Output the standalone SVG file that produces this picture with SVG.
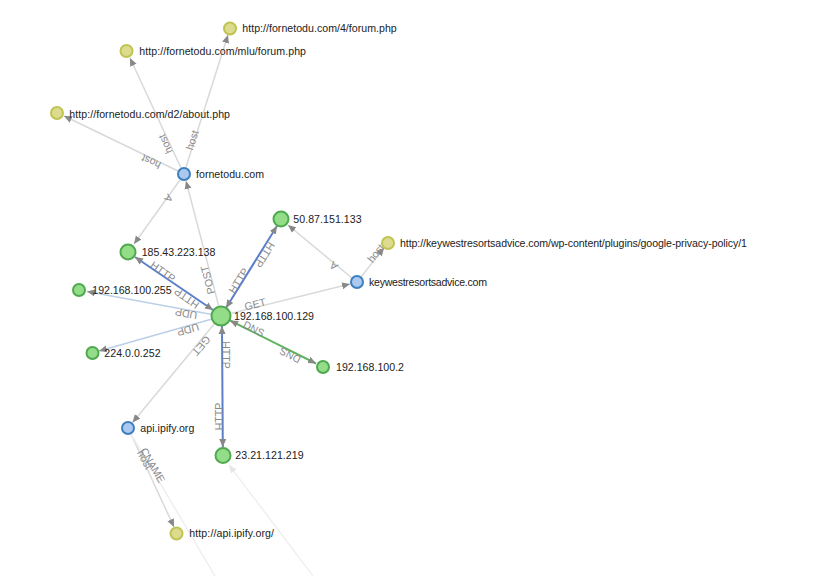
<svg xmlns="http://www.w3.org/2000/svg" width="823" height="576" viewBox="0 0 823 576">
<style>
.n text{font:10.6px "Liberation Sans",Arial,sans-serif;fill:#222}
.ip circle{fill:#93dd88;stroke:#4fa94f;stroke-width:2}
.dom circle{fill:#aac8f0;stroke:#3d80bd;stroke-width:2}
.url circle{fill:#dcdb8e;stroke:#bfc452;stroke-width:2}
#edges line{fill:none;stroke-width:1.5;stroke:#d9d9d9}
#edges line.a{marker-end:url(#arr)}
#edges line.s{marker-start:url(#arrs)}
#edges line.h{stroke:#5c7fca;stroke-width:2}
#edges line.d{stroke:#5cb45c;stroke-width:2}
#edges line.u{stroke:#bccfe8}
#edges line.f{stroke:#f0f0f0}
#edges text{font:10.6px "Liberation Sans",Arial,sans-serif;fill:#8a8a8a;text-anchor:middle;dominant-baseline:central}
</style>
<defs>
<marker id="arr" markerUnits="userSpaceOnUse" markerWidth="9" markerHeight="8" refX="8" refY="4" orient="auto"><path d="M0 0.500L8 4L0 7.500Z" fill="#888"/></marker>
<marker id="arrs" markerUnits="userSpaceOnUse" markerWidth="9" markerHeight="8" refX="0" refY="4" orient="auto"><path d="M8 0.500L0 4L8 7.500Z" fill="#888"/></marker>
<marker id="arrf" markerUnits="userSpaceOnUse" markerWidth="9" markerHeight="8" refX="8" refY="4" orient="auto"><path d="M0 0.500L8 4L0 7.500Z" fill="#e6e6e6"/></marker>
</defs>
<g id="edges">
<line class="a" x1="186" y1="167" x2="228" y2="35"/>
<line class="a" x1="181" y1="168" x2="130" y2="58"/>
<line class="a" x1="178" y1="171" x2="64" y2="116"/>
<line class="a" x1="180" y1="180" x2="134" y2="244"/>
<line class="a" x1="219" y1="307" x2="186" y2="181"/>
<line class="a s h" x1="135" y1="257" x2="213" y2="310"/>
<line class="a s h" x1="226" y1="308" x2="277" y2="226"/>
<line class="a" x1="231" y1="313.500" x2="350" y2="284"/>
<line class="a s d" x1="230" y1="320.500" x2="316" y2="363.500"/>
<line class="a u" x1="212" y1="314.500" x2="87" y2="291.500"/>
<line class="a u" x1="212" y1="319" x2="99" y2="351"/>
<line class="a" x1="215" y1="323" x2="132.500" y2="422.500"/>
<line class="a s h" x1="222" y1="326" x2="222.800" y2="447"/>
<line class="a" x1="352" y1="278" x2="288" y2="225"/>
<line class="a" x1="361" y1="277" x2="384" y2="248"/>
<line class="a" x1="131" y1="434" x2="174" y2="527"/>
<line class="f" x1="131" y1="434" x2="215" y2="576"/>
<line class="f" style="marker-end:url(#arrf)" x1="313" y1="576" x2="229" y2="465"/>
<text transform="translate(192,140) rotate(-72)">host</text>
<text transform="translate(165,144) rotate(245)">host</text>
<text transform="translate(151,162) rotate(205)">host</text>
<text transform="translate(169,198.500) rotate(126)">A</text>
<text transform="translate(207.500,280) rotate(255)">POST</text>
<text transform="translate(163,271.500) rotate(35)">HTTP</text>
<text transform="translate(186.500,298.500) rotate(215)">HTTP</text>
<text transform="translate(238.500,280.500) rotate(-58)">HTTP</text>
<text transform="translate(265,255) rotate(122)">HTTP</text>
<text transform="translate(255,304) rotate(-14)">GET</text>
<text transform="translate(254,328.500) rotate(27)">DNS</text>
<text transform="translate(290,355.500) rotate(207)">DNS</text>
<text transform="translate(186,314) rotate(190)">UDP</text>
<text transform="translate(188,330) rotate(164)">UDP</text>
<text transform="translate(201.500,346) rotate(130)">GET</text>
<text transform="translate(226,355) rotate(90)">HTTP</text>
<text transform="translate(219,416.500) rotate(-90)">HTTP</text>
<text transform="translate(333.500,266) rotate(220)">A</text>
<text transform="translate(375.500,253) rotate(-52)">host</text>
<text transform="translate(153,465) rotate(60)">CNAME</text>
<text transform="translate(145,459.500) rotate(62)">host</text>
</g>
<g id="n-main" class="n ip"><circle cx="221" cy="316" r="9.5"/><text x="234" y="320" textLength="80">192.168.100.129</text></g>
<g id="n-fornetodu" class="n dom"><circle cx="184" cy="174" r="6"/><text x="196" y="177.500" textLength="68">fornetodu.com</text></g>
<g id="n-forum4" class="n url"><circle cx="230" cy="28.500" r="6"/><text x="242.300" y="32" textLength="154.400">http://fornetodu.com/4/forum.php</text></g>
<g id="n-mlu" class="n url"><circle cx="126.500" cy="51" r="6"/><text x="139.300" y="55" textLength="166.700">http://fornetodu.com/mlu/forum.php</text></g>
<g id="n-d2" class="n url"><circle cx="57" cy="113" r="6"/><text x="69.300" y="117.500" textLength="160.700">http://fornetodu.com/d2/about.php</text></g>
<g id="n-185" class="n ip"><circle cx="128" cy="252" r="7.500"/><text x="141.700" y="256" textLength="73.700">185.43.223.138</text></g>
<g id="n-50" class="n ip"><circle cx="281" cy="219" r="7.500"/><text x="293.300" y="223" textLength="68.300">50.87.151.133</text></g>
<g id="n-keywest" class="n dom"><circle cx="357" cy="282" r="6"/><text x="369" y="285.500" textLength="118">keywestresortsadvice.com</text></g>
<g id="n-keyurl" class="n url"><circle cx="388" cy="243" r="6"/><text x="400" y="247" textLength="347">http://keywestresortsadvice.com/wp-content/plugins/google-privacy-policy/1</text></g>
<g id="n-255" class="n ip"><circle cx="79" cy="290" r="6"/><text x="92.300" y="294" textLength="79.300">192.168.100.255</text></g>
<g id="n-224" class="n ip"><circle cx="92.500" cy="353" r="6"/><text x="104.300" y="357" textLength="56.300">224.0.0.252</text></g>
<g id="n-2" class="n ip"><circle cx="323" cy="367" r="6"/><text x="336" y="370.500" textLength="68">192.168.100.2</text></g>
<g id="n-api" class="n dom"><circle cx="128" cy="428" r="6"/><text x="140.300" y="432" textLength="54">api.ipify.org</text></g>
<g id="n-23" class="n ip"><circle cx="223" cy="455.500" r="7.500"/><text x="235.300" y="459" textLength="68.300">23.21.121.219</text></g>
<g id="n-apiurl" class="n url"><circle cx="176.500" cy="533.500" r="6"/><text x="189.300" y="537" textLength="84.700">http://api.ipify.org/</text></g>
</svg>
